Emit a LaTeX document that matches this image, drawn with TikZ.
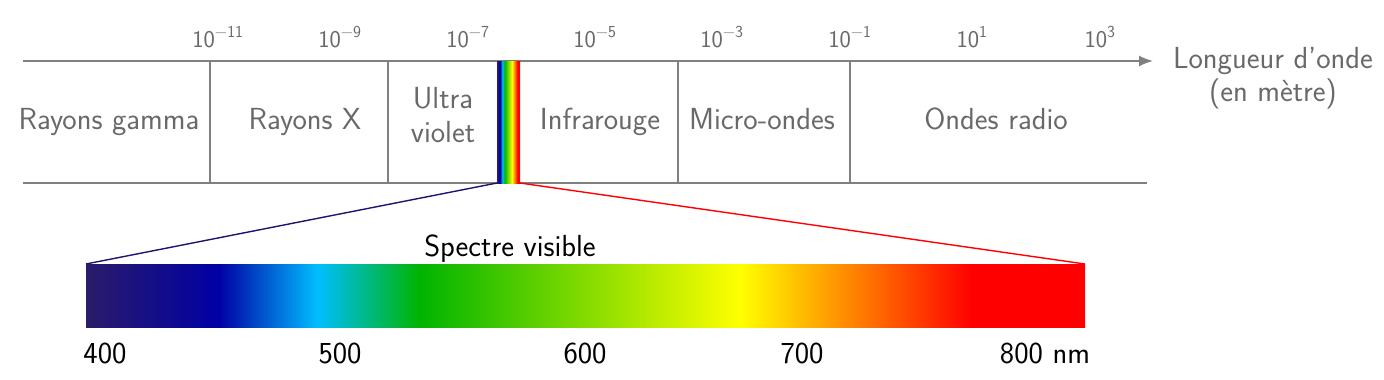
\documentclass[tikz,border=0pt]{standalone}
\usetikzlibrary{arrows.meta}
\definecolor{txtgray}{RGB}{105,105,105}
\definecolor{linegray}{RGB}{128,128,128}
\definecolor{vdark}{RGB}{42,28,105}
\definecolor{vnavy}{RGB}{30,20,110}
\definecolor{vblue}{RGB}{0,0,165}
\definecolor{vcyan}{RGB}{0,190,255}
\definecolor{vgreen}{RGB}{0,180,0}
\definecolor{vyellow}{RGB}{255,255,0}
\definecolor{vred}{RGB}{255,0,0}
\pgfdeclarehorizontalshading{visible}{100bp}{color(0bp)=(vdark); color(25bp)=(vdark); color(31.65bp)=(vblue); color(36.6bp)=(vcyan); color(41.7bp)=(vgreen); color(57.75bp)=(vyellow); color(69.35bp)=(vred); color(75bp)=(vred); color(100bp)=(vred)}
\tikzset{
  cat/.style={text=txtgray, font=\sffamily\fontsize{30.5}{36}\selectfont, anchor=base, inner sep=0pt},
  tick/.style={text=txtgray, font=\sffamily\fontsize{24}{29}\selectfont, anchor=base, inner sep=0pt},
  num/.style={text=black, font=\sffamily\fontsize{30.5}{36}\selectfont, anchor=base, inner sep=0pt},
  axisline/.style={draw=linegray, line width=1.6pt},
  zoomline/.style={line width=1.4pt}
}
\begin{document}
\begin{tikzpicture}[x=1pt,y=-1pt]
\useasboundingbox (0,0) rectangle (1384,380);
% axis coordinates
\coordinate (a0) at (23,61);
\coordinate (a1) at (1153,61);
\coordinate (b0) at (23,183);
\coordinate (b1) at (1147,183);
\foreach \x/\n in {210/d1,388/d2,678/d3,850/d4}{
  \coordinate (\n t) at (\x,61);
  \coordinate (\n b) at (\x,183);
}
\draw[axisline, -{Latex[length=14pt,width=11pt]}] (a0) -- (a1);
\draw[axisline] (b0) -- (b1);
\foreach \n in {d1,d2,d3,d4}{\draw[axisline] (\n t) -- (\n b);}
% visible strip
\coordinate (sl) at (497,183);
\coordinate (sr) at (520,183);
\shade[shading=visible] (497,61) rectangle (520,183);
% tick labels
\node[tick] (t1) at (218,47) {10\textsuperscript{\textminus11}};
\node[tick] (t2) at (340,47) {10\textsuperscript{\textminus9}};
\node[tick] (t3) at (468,47) {10\textsuperscript{\textminus7}};
\node[tick] (t4) at (595,47) {10\textsuperscript{\textminus5}};
\node[tick] (t5) at (722,47) {10\textsuperscript{\textminus3}};
\node[tick] (t6) at (850,47) {10\textsuperscript{\textminus1}};
\node[tick] (t7) at (972,47) {10\textsuperscript{1}};
\node[tick] (t8) at (1100,47) {10\textsuperscript{3}};
% category labels
\node[cat] (gamma) at (109,129) {Rayons gamma};
\node[cat] (xray) at (305,129) {Rayons X};
\node[cat] (uv1) at (443,108) {Ultra};
\node[cat] (uv2) at (443,142) {violet};
\node[cat] (ir) at (600,129) {Infrarouge};
\node[cat] (mw) at (762,129) {Micro-ondes};
\node[cat] (radio) at (996,129) {Ondes radio};
\node[cat] (len1) at (1273,68) {Longueur d’onde};
\node[cat] (len2) at (1273,101) {(en mètre)};
% visible spectrum bar
\coordinate (bl) at (86,264);
\coordinate (br) at (1085,264);
\shade[shading=visible] (bl) rectangle (1085,327);
\draw[zoomline, draw=vnavy] (sl) -- (bl);
\draw[zoomline, draw=vred] (sr) -- (br);
\node[num] (title) at (510,256) {Spectre visible};
\node[num] (n400) at (105,363) {400};
\node[num] (n500) at (340,363) {500};
\node[num] (n600) at (585,363) {600};
\node[num] (n700) at (802,363) {700};
\node[num] (n800) at (1045,363) {800 nm};
\end{tikzpicture}
\end{document}
